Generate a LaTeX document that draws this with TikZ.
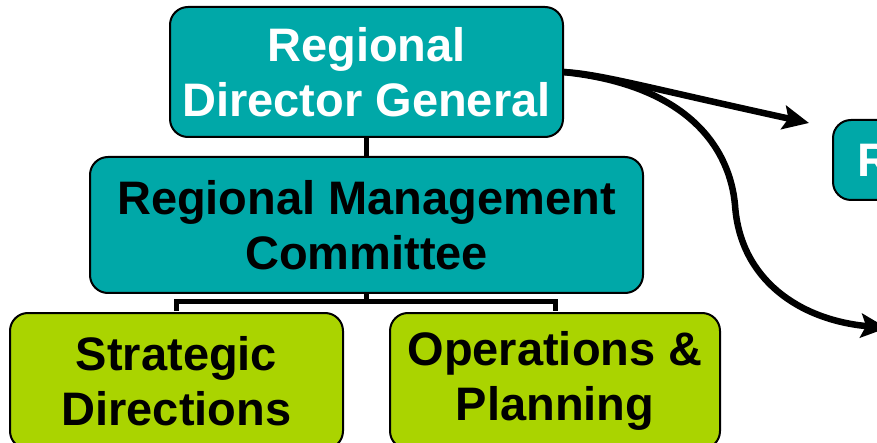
\documentclass[tikz,border=0pt]{standalone}
\usepackage{fontspec}
\setmainfont{Liberation Sans}
\usetikzlibrary{arrows.meta}
\definecolor{teal1}{RGB}{0,168,168}
\definecolor{lime1}{RGB}{170,212,0}
\tikzset{
  boxbase/.style={draw=black, line width=2pt, rounded corners=18pt, align=center,
    font=\bfseries\fontsize{47}{55}\selectfont, inner sep=0pt, anchor=center},
  tealbox/.style={boxbase, fill=teal1},
  limebox/.style={boxbase, fill=lime1, text=black},
  conn/.style={line width=5pt},
  bigarrow/.style={line width=6.5pt, -{Stealth[length=26pt,width=24pt,inset=5pt]}}
}
\begin{document}
\begin{tikzpicture}[x=1pt,y=-1pt]
\useasboundingbox (0,0) rectangle (877,443);
\clip (0,0) rectangle (877,443);
\coordinate (bj) at (366.5,301);
% boxes
\node[tealbox, text=white, minimum width=393pt, minimum height=130pt] (rdg) at (366.5,72) {Regional\\Director General};
\node[tealbox, text=black, minimum width=553pt, minimum height=136pt] (rmc) at (366.5,225) {Regional Management\\Committee};
\node[limebox, minimum width=333pt, minimum height=136pt] (sd) at (176.5,381) {Strategic\\Directions};
\node[limebox, minimum width=330pt, minimum height=136pt] (op) at (555,381) {Operations \&\\Planning};
\node[tealbox, text=white, minimum width=140pt, minimum height=80pt, text width=92pt, align=left] (rb) at (903,160) {R};
% connectors
\draw[conn] (rdg.south) -- (rmc.north);
\draw[conn] (rmc.south) -- (bj);
\draw[conn] ([yshift=1pt]sd.north) -- (sd.north |- bj) -- (op.north |- bj) -- ([yshift=1pt]op.north);
% arrows
\coordinate (a1) at (563,72);
\coordinate (t1) at (809,123);
\coordinate (m2) at (735,205);
\coordinate (t2) at (887,328);
\draw[bigarrow] (a1) .. controls (600,74) and (640,86) .. (t1);
\draw[bigarrow] (a1) .. controls (690,85) and (730,150) .. (m2) .. controls (740,280) and (800,320) .. (t2);
\end{tikzpicture}
\end{document}
